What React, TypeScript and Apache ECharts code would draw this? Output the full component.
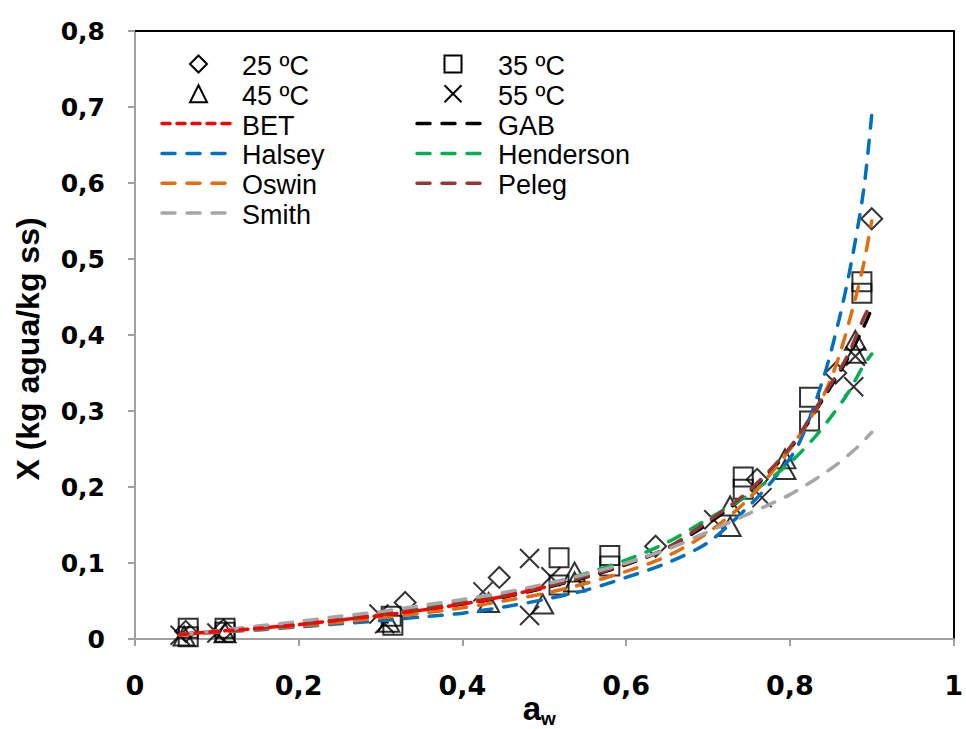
import React, { useEffect, useRef } from "react";
import * as echarts from "echarts";

// ---------- data ----------
const xTickLabels = ["0", "0,2", "0,4", "0,6", "0,8", "1"];
const yTickLabels = ["0", "0,1", "0,2", "0,3", "0,4", "0,5", "0,6", "0,7", "0,8"];

const exp25: [number, number][] = [
  [0.062, 0.010], [0.108, 0.012], [0.33, 0.048], [0.445, 0.081],
  [0.636, 0.122], [0.760, 0.210], [0.856, 0.350], [0.900, 0.553],
];
const exp35: [number, number][] = [
  [0.065, 0.014], [0.065, 0.003], [0.11, 0.014], [0.11, 0.009],
  [0.313, 0.030], [0.315, 0.018], [0.518, 0.107], [0.518, 0.071],
  [0.58, 0.110], [0.58, 0.096], [0.743, 0.213], [0.743, 0.197],
  [0.824, 0.318], [0.824, 0.287], [0.888, 0.470], [0.888, 0.455],
];
const exp45: [number, number][] = [
  [0.06, 0.004], [0.11, 0.008], [0.31, 0.022], [0.432, 0.048],
  [0.498, 0.046], [0.537, 0.088], [0.537, 0.075], [0.727, 0.175],
  [0.727, 0.148], [0.794, 0.237], [0.794, 0.223], [0.88, 0.393], [0.88, 0.376],
];
const exp55: [number, number][] = [
  [0.055, 0.005], [0.10, 0.008], [0.298, 0.033], [0.305, 0.020],
  [0.425, 0.062], [0.482, 0.106], [0.482, 0.031], [0.508, 0.082],
  [0.707, 0.157], [0.766, 0.186], [0.878, 0.332], [0.88, 0.372],
];

const curveBET: [number, number][] = [
  [0.055, 0.006], [0.1, 0.010], [0.15, 0.014], [0.2, 0.019], [0.25, 0.025],
  [0.3, 0.031], [0.35, 0.038], [0.4, 0.046], [0.45, 0.056], [0.5, 0.068],
];
const curveGAB: [number, number][] = [
  [0.055, 0.006], [0.1, 0.010], [0.15, 0.014], [0.2, 0.019], [0.25, 0.025],
  [0.3, 0.031], [0.35, 0.038], [0.4, 0.046], [0.45, 0.055], [0.5, 0.067],
  [0.55, 0.081], [0.6, 0.098], [0.65, 0.119], [0.7, 0.152], [0.75, 0.193],
  [0.8, 0.250], [0.84, 0.315], [0.87, 0.368], [0.89, 0.410], [0.9, 0.435],
];
const curveHalsey: [number, number][] = [
  [0.055, 0.005], [0.1, 0.009], [0.15, 0.012], [0.2, 0.016], [0.25, 0.020],
  [0.3, 0.024], [0.35, 0.029], [0.4, 0.034], [0.45, 0.042], [0.5, 0.052],
  [0.55, 0.064], [0.6, 0.081], [0.65, 0.100], [0.7, 0.127], [0.75, 0.175],
  [0.78, 0.210], [0.81, 0.255], [0.84, 0.340], [0.86, 0.420], [0.875, 0.495],
  [0.89, 0.590], [0.9, 0.690],
];
const curveHenderson: [number, number][] = [
  [0.055, 0.006], [0.1, 0.010], [0.15, 0.015], [0.2, 0.020], [0.25, 0.026],
  [0.3, 0.033], [0.35, 0.040], [0.4, 0.049], [0.45, 0.059], [0.5, 0.071],
  [0.55, 0.086], [0.6, 0.104], [0.65, 0.127], [0.7, 0.158], [0.75, 0.190],
  [0.8, 0.232], [0.83, 0.265], [0.85, 0.292], [0.87, 0.322], [0.89, 0.360],
  [0.9, 0.375],
];
const curveOswin: [number, number][] = [
  [0.055, 0.005], [0.1, 0.009], [0.15, 0.013], [0.2, 0.017], [0.25, 0.022],
  [0.3, 0.028], [0.35, 0.034], [0.4, 0.041], [0.45, 0.050], [0.5, 0.060],
  [0.55, 0.073], [0.6, 0.089], [0.65, 0.109], [0.7, 0.140], [0.75, 0.185],
  [0.8, 0.250], [0.84, 0.318], [0.86, 0.372], [0.88, 0.448], [0.89, 0.493],
  [0.9, 0.550],
];
const curvePeleg: [number, number][] = [
  [0.055, 0.006], [0.1, 0.010], [0.15, 0.014], [0.2, 0.019], [0.25, 0.025],
  [0.3, 0.032], [0.35, 0.039], [0.4, 0.047], [0.45, 0.056], [0.5, 0.068],
  [0.55, 0.082], [0.6, 0.099], [0.65, 0.120], [0.7, 0.155], [0.75, 0.195],
  [0.8, 0.252], [0.84, 0.318], [0.87, 0.372], [0.89, 0.422], [0.9, 0.443],
];
const curveSmith: [number, number][] = [
  [0.055, 0.006], [0.1, 0.011], [0.15, 0.017], [0.2, 0.023], [0.25, 0.030],
  [0.3, 0.036], [0.35, 0.044], [0.4, 0.052], [0.45, 0.061], [0.5, 0.072],
  [0.55, 0.085], [0.6, 0.100], [0.65, 0.118], [0.7, 0.141], [0.75, 0.165],
  [0.8, 0.190], [0.85, 0.224], [0.88, 0.250], [0.9, 0.272],
];

// ---------- styling ----------
const W = 966;
const H = 729;
const GRID = { left: 135, top: 31, width: 825, height: 608 };

const DASH_LONG = [13, 12];
const DASH_SHORT = [8, 7];

type ScatterDef = { name: string; data: [number, number][]; kind: string; size: number | number[] };
type LineDef = { name: string; data: [number, number][]; color: string; dash: number[] };

const scatterDefs: ScatterDef[] = [
  { name: "25 ºC", data: exp25, kind: "diamond", size: 21 },
  { name: "35 ºC", data: exp35, kind: "rect", size: 19 },
  { name: "45 ºC", data: exp45, kind: "triangle", size: [21, 19] },
  { name: "55 ºC", data: exp55, kind: "cross", size: 19 },
];

const lineDefs: LineDef[] = [
  { name: "BET", data: curveBET, color: "#FF0000", dash: DASH_SHORT },
  { name: "GAB", data: curveGAB, color: "#000000", dash: DASH_LONG },
  { name: "Halsey", data: curveHalsey, color: "#0070C0", dash: DASH_LONG },
  { name: "Henderson", data: curveHenderson, color: "#00B050", dash: DASH_LONG },
  { name: "Oswin", data: curveOswin, color: "#E46C0A", dash: DASH_LONG },
  { name: "Peleg", data: curvePeleg, color: "#953735", dash: DASH_LONG },
  { name: "Smith", data: curveSmith, color: "#A6A6A6", dash: DASH_LONG },
];

// draw order of the curves (last on top)
const lineDrawOrder = ["GAB", "Halsey", "Henderson", "Oswin", "Peleg", "Smith", "BET"];

function symbolFor(kind: string): string {
  if (kind === "cross") return "path://M0,0L10,10M10,0L0,10";
  return kind;
}

function markerGraphic(kind: string, cx: number, cy: number, s: number): any {
  const h = s / 2;
  const st = { fill: "none", stroke: "#000", lineWidth: 2 };
  if (kind === "diamond")
    return { type: "polygon", shape: { points: [[cx, cy - h], [cx + h, cy], [cx, cy + h], [cx - h, cy]] }, style: st };
  if (kind === "rect")
    return { type: "rect", shape: { x: cx - h, y: cy - h, width: s, height: s }, style: st };
  if (kind === "triangle")
    return { type: "polygon", shape: { points: [[cx, cy - h], [cx + h, cy + h], [cx - h, cy + h]] }, style: st };
  return {
    type: "group",
    children: [
      { type: "line", shape: { x1: cx - h, y1: cy - h, x2: cx + h, y2: cy + h }, style: st },
      { type: "line", shape: { x1: cx + h, y1: cy - h, x2: cx - h, y2: cy + h }, style: st },
    ],
  };
}

function buildLegend(): any[] {
  const entries: { name: string; scatter?: ScatterDef; line?: LineDef }[] = [
    ...scatterDefs.map((s) => ({ name: s.name, scatter: s })),
    ...lineDefs.map((l) => ({ name: l.name, line: l })),
  ];
  const colX = [{ x1: 162, x2: 235, tx: 242 }, { x1: 417, x2: 489, tx: 498 }];
  const rowY0 = 64;
  const rowStep = 29.8;
  const out: any[] = [];
  entries.forEach((e, i) => {
    const col = colX[i % 2];
    const cy = rowY0 + Math.floor(i / 2) * rowStep;
    const cx = (col.x1 + col.x2) / 2;
    if (e.scatter) out.push(markerGraphic(e.scatter.kind, cx, cy, 17));
    if (e.line)
      out.push({
        type: "line",
        shape: { x1: col.x1, y1: cy, x2: col.x2, y2: cy },
        style: { stroke: e.line.color, lineWidth: 3.5, lineDash: e.line.dash, lineCap: "round" },
      });
    out.push({
      type: "text",
      x: col.tx,
      y: cy + 2,
      style: {
        text: e.name,
        fontSize: 27,
        fontFamily: "Liberation Sans",
        fill: "#000",
        align: "left",
        verticalAlign: "middle",
      },
    });
  });
  return out;
}

export default function App() {
  const ref = useRef<HTMLDivElement>(null);

  useEffect(() => {
    document.body.style.margin = "0";
    if (!ref.current) return;
    const chart = echarts.init(ref.current, undefined, { renderer: "svg" });

    const tickFont = { fontFamily: "DejaVu Sans", fontWeight: "bold" as const, color: "#000" };
    const axisGray = "#A0A0A0";

    const scatterSeries = scatterDefs.map((s) => ({
      type: "scatter",
      name: s.name,
      data: s.data,
      symbol: symbolFor(s.kind),
      symbolSize: s.size,
      itemStyle: { color: "rgba(0,0,0,0)", borderColor: "#000", borderWidth: 2 },
      xAxisIndex: 0,
      yAxisIndex: 0,
      z: 2,
    }));

    const lineSeries = lineDrawOrder.map((n) => {
      const l = lineDefs.find((d) => d.name === n)!;
      return {
        type: "line",
        name: l.name,
        data: l.data,
        smooth: 0.3,
        showSymbol: false,
        symbol: "none",
        lineStyle: { color: l.color, width: 3.5, type: l.dash, cap: "round" },
        xAxisIndex: 0,
        yAxisIndex: 0,
        z: 3,
      };
    });

    chart.setOption({
      animation: false,
      backgroundColor: "#fff",
      grid: { ...GRID, containLabel: false },
      xAxis: [
        {
          type: "value",
          min: 0,
          max: 1,
          interval: 0.2,
          axisLine: { show: true, onZero: false, lineStyle: { color: axisGray, width: 2 } },
          axisTick: { show: true, length: 7, lineStyle: { color: axisGray, width: 2 } },
          axisLabel: {
            ...tickFont,
            fontSize: 27,
            margin: 33,
            formatter: (v: number) => xTickLabels[Math.round(v / 0.2)] ?? "",
          },
          splitLine: { show: false },
        },
        {
          type: "value",
          position: "top",
          min: 0,
          max: 1,
          axisLine: { show: true, onZero: false, lineStyle: { color: "#000", width: 2 } },
          axisTick: { show: false },
          axisLabel: { show: false },
          splitLine: { show: false },
        },
      ],
      yAxis: [
        {
          type: "value",
          min: 0,
          max: 0.8,
          interval: 0.1,
          axisLine: { show: true, onZero: false, lineStyle: { color: axisGray, width: 2 } },
          axisTick: { show: true, length: 7, lineStyle: { color: axisGray, width: 2 } },
          axisLabel: {
            ...tickFont,
            fontSize: 25,
            margin: 30,
            formatter: (v: number) => yTickLabels[Math.round(v / 0.1)] ?? "",
          },
          splitLine: { show: false },
        },
        {
          type: "value",
          position: "right",
          min: 0,
          max: 0.8,
          axisLine: { show: true, onZero: false, lineStyle: { color: "#000", width: 2 } },
          axisTick: { show: false },
          axisLabel: { show: false },
          splitLine: { show: false },
        },
      ],
      series: [...scatterSeries, ...lineSeries],
      graphic: [
        ...buildLegend(),
        {
          type: "text",
          x: 28,
          y: 349,
          rotation: Math.PI / 2,
          style: {
            text: "X (kg agua/kg ss)",
            fontSize: 32,
            fontWeight: "bold",
            fontFamily: "Liberation Sans",
            fill: "#000",
            align: "center",
            verticalAlign: "middle",
          },
        },
        {
          type: "text",
          x: 541,
          y: 708,
          style: {
            text: "a",
            fontSize: 33,
            fontWeight: "bold",
            fontFamily: "Liberation Sans",
            fill: "#000",
            align: "right",
            verticalAlign: "middle",
          },
        },
        {
          type: "text",
          x: 541,
          y: 718,
          style: {
            text: "w",
            fontSize: 19,
            fontWeight: "bold",
            fontFamily: "Liberation Sans",
            fill: "#000",
            align: "left",
            verticalAlign: "middle",
          },
        },
      ],
    });

    return () => chart.dispose();
  }, []);

  return <div ref={ref} style={{ width: W, height: H }} />;
}
